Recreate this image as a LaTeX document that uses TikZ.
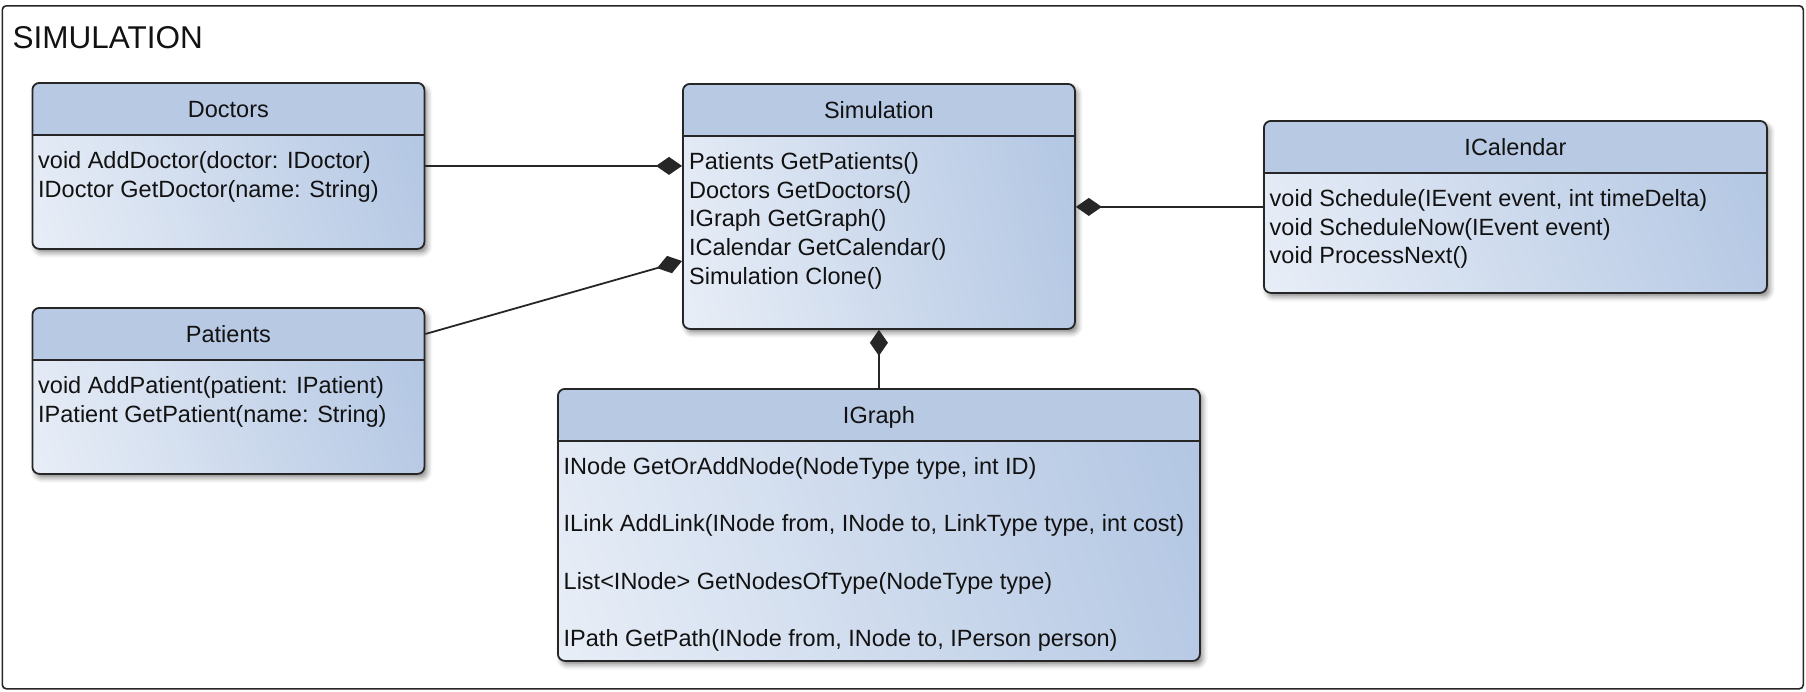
\documentclass[tikz,border=0pt]{standalone}
\usepackage{fontspec}
\setmainfont{Liberation Sans}
\usetikzlibrary{arrows.meta,shadows.blur,shadings}

\definecolor{headfill}{RGB}{184,201,227}
\definecolor{bodylight}{RGB}{232,238,247}
\definecolor{bodydark}{RGB}{177,197,226}
\definecolor{boxline}{RGB}{38,38,38}
\definecolor{inktext}{RGB}{18,18,18}

\tikzset{
  classbox/.style={draw=boxline, line width=1.8pt, rounded corners=7pt,
    inner sep=0pt, anchor=north west,
    blur shadow={shadow xshift=3pt, shadow yshift=-4pt,
      shadow blur radius=5pt, shadow opacity=45},
    path picture={
      \shade[lower left=bodylight, upper left=bodylight!88!bodydark,
             lower right=bodydark!88!bodylight, upper right=bodydark]
        (path picture bounding box.south west) rectangle
        (path picture bounding box.north east);
      \fill[headfill] (path picture bounding box.north west) rectangle
        ([yshift=-53pt]path picture bounding box.north east);
    }},
  divider/.style={draw=boxline, line width=1.8pt},
  ctitle/.style={anchor=base, inner sep=0pt, text=inktext,
    font=\fontsize{23.5}{28}\selectfont},
  cmember/.style={anchor=base west, inner sep=0pt, text=inktext,
    font=\fontsize{23.5}{28}\selectfont},
  assoc/.style={draw=boxline, line width=1.8pt,
    -{Diamond[length=26pt,width=18pt]}},
  frametitle/.style={anchor=base west, inner sep=0pt, text=inktext,
    font=\fontsize{31.5}{36}\selectfont},
}

\begin{document}
\begin{tikzpicture}[x=1pt,y=-1pt]
\useasboundingbox (0,0) rectangle (1806,691);

% package frame
\node[draw=boxline, line width=1.6pt, rounded corners=4pt, inner sep=0pt,
      anchor=north west, minimum width=1801pt, minimum height=683pt]
      (frame) at (1.5,5) {};
\node[frametitle] (frameT) at (12.5,48) {SIMULATION};

% Doctors
\node[classbox, minimum width=392pt, minimum height=166pt] (doc) at (31.5,82) {};
\draw[divider] ([yshift=-53pt]doc.north west) -- ([yshift=-53pt]doc.north east);
\node[ctitle] (docT) at ([yshift=-35pt]doc.north) {Doctors};
\node[cmember] (docM1) at ([xshift=6.5pt,yshift=-86.5pt]doc.north west) {void AddDoctor(doctor: IDoctor)};
\node[cmember] (docM2) at ([xshift=6.5pt,yshift=-115.2pt]doc.north west) {IDoctor GetDoctor(name: String)};

% Patients
\node[classbox, minimum width=392pt, minimum height=166pt] (pat) at (31.5,307) {};
\draw[divider] ([yshift=-53pt]pat.north west) -- ([yshift=-53pt]pat.north east);
\node[ctitle] (patT) at ([yshift=-35pt]pat.north) {Patients};
\node[cmember] (patM1) at ([xshift=6.5pt,yshift=-86.5pt]pat.north west) {void AddPatient(patient: IPatient)};
\node[cmember] (patM2) at ([xshift=6.5pt,yshift=-115.2pt]pat.north west) {IPatient GetPatient(name: String)};

% Simulation
\node[classbox, minimum width=392pt, minimum height=245pt] (sim) at (682,83) {};
\draw[divider] ([yshift=-53pt]sim.north west) -- ([yshift=-53pt]sim.north east);
\node[ctitle] (simT) at ([yshift=-35pt]sim.north) {Simulation};
\node[cmember] (simM1) at ([xshift=7pt,yshift=-86.5pt]sim.north west) {Patients GetPatients()};
\node[cmember] (simM2) at ([xshift=7pt,yshift=-115.2pt]sim.north west) {Doctors GetDoctors()};
\node[cmember] (simM3) at ([xshift=7pt,yshift=-143.9pt]sim.north west) {IGraph GetGraph()};
\node[cmember] (simM4) at ([xshift=7pt,yshift=-172.6pt]sim.north west) {ICalendar GetCalendar()};
\node[cmember] (simM5) at ([xshift=7pt,yshift=-201.3pt]sim.north west) {Simulation Clone()};

% ICalendar
\node[classbox, minimum width=503pt, minimum height=172pt] (cal) at (1263,120) {};
\draw[divider] ([yshift=-53pt]cal.north west) -- ([yshift=-53pt]cal.north east);
\node[ctitle] (calT) at ([yshift=-35pt]cal.north) {ICalendar};
\node[cmember] (calM1) at ([xshift=6.5pt,yshift=-86.5pt]cal.north west) {void Schedule(IEvent event, int timeDelta)};
\node[cmember] (calM2) at ([xshift=6.5pt,yshift=-115.2pt]cal.north west) {void ScheduleNow(IEvent event)};
\node[cmember] (calM3) at ([xshift=6.5pt,yshift=-143.9pt]cal.north west) {void ProcessNext()};

% IGraph
\node[classbox, minimum width=642pt, minimum height=272pt] (igr) at (557,388) {};
\draw[divider] ([yshift=-53pt]igr.north west) -- ([yshift=-53pt]igr.north east);
\node[ctitle] (igrT) at ([yshift=-35pt]igr.north) {IGraph};
\node[cmember] (igrM1) at ([xshift=6.5pt,yshift=-86pt]igr.north west) {INode GetOrAddNode(NodeType type, int ID)};
\node[cmember] (igrM2) at ([xshift=6.5pt,yshift=-143.5pt]igr.north west) {ILink AddLink(INode from, INode to, LinkType type, int cost)};
\node[cmember] (igrM3) at ([xshift=6.5pt,yshift=-201pt]igr.north west) {List<INode> GetNodesOfType(NodeType type)};
\node[cmember] (igrM4) at ([xshift=6.5pt,yshift=-258.5pt]igr.north west) {IPath GetPath(INode from, INode to, IPerson person)};

% composition links
\coordinate (patOut) at ([yshift=-27pt]pat.north east);
\coordinate (simIn) at ([yshift=-178pt]sim.north west);
\draw[assoc] (doc.east) -- (doc.east -| sim.west);
\draw[assoc] (patOut) -- (simIn);
\draw[assoc] (cal.west) -- (cal.west -| sim.east);
\draw[assoc] (igr.north) -- (sim.south);
\end{tikzpicture}
\end{document}
